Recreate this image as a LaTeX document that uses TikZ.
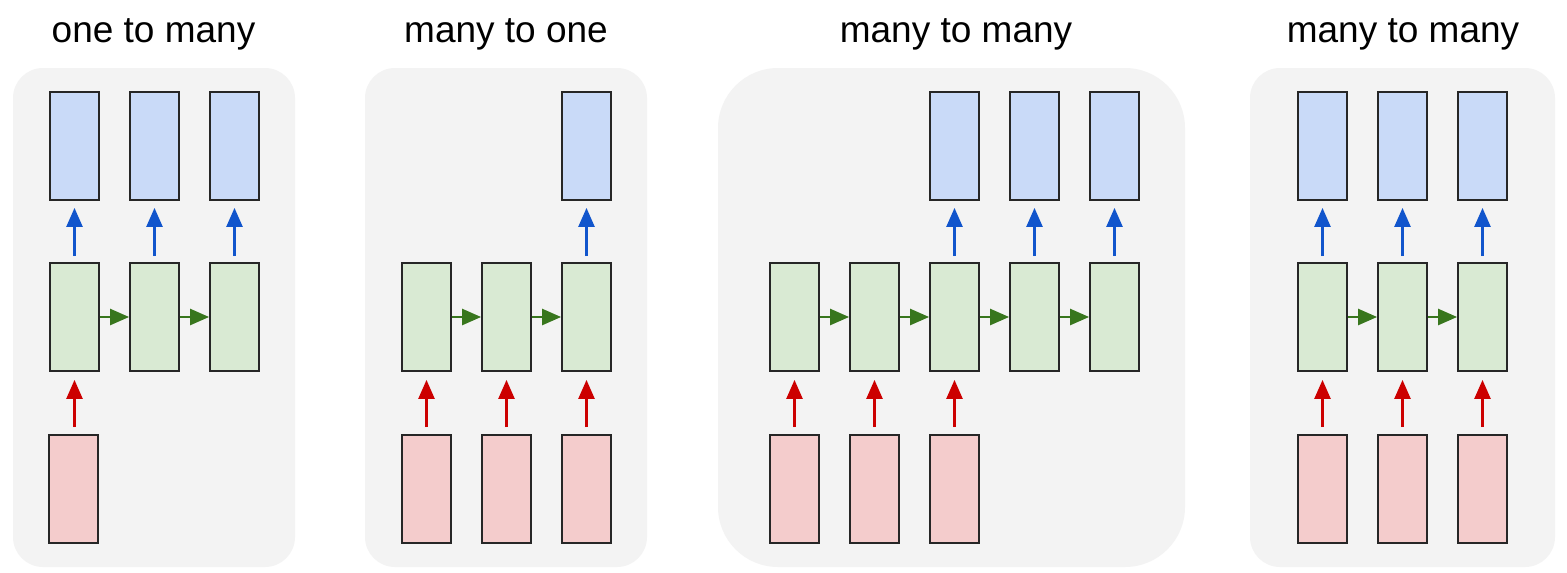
\documentclass[tikz,border=0pt]{standalone}
\usepackage{fontspec}
\setmainfont{Liberation Sans}
\usetikzlibrary{arrows.meta,positioning}
\definecolor{panelc}{HTML}{F3F3F3}
\definecolor{outc}{HTML}{C9DAF8}
\definecolor{hidc}{HTML}{D9EAD3}
\definecolor{inc}{HTML}{F4CCCC}
\definecolor{outarc}{HTML}{1155CC}
\definecolor{hidarc}{HTML}{38761D}
\definecolor{inarc}{HTML}{CC0000}

\begin{document}
\begin{tikzpicture}[x=1pt,y=-1pt,
  cell/.style={draw=black!85,line width=1.8pt,minimum width=49pt,minimum height=108pt,inner sep=0pt},
  outcell/.style={cell,fill=outc},
  hidcell/.style={cell,fill=hidc},
  incell/.style={cell,fill=inc},
  tip/.style={-{Triangle[length=19pt,width=16pt]},line width=2.4pt},
  outarr/.style={tip,draw=outarc,fill=outarc,shorten <=6pt,shorten >=7pt},
  inarr/.style={tip,draw=inarc,fill=inarc,shorten <=7pt,shorten >=8pt},
  hidarr/.style={tip,draw=hidarc,fill=hidarc},
  title/.style={anchor=base,font=\fontsize{37}{40}\selectfont}]
  \useasboundingbox[fill=white] (0,0) rectangle (1567,573);
  % rows: out 146, hid 317, in 489 (centres)
  \def\yo{146}\def\yh{317}\def\yi{489}

  % one to many
  \fill[panelc,rounded corners=30pt] (13,68) rectangle (295,567);
  \node[title] (t1) at (153.5,42) {one to many};
  \foreach \i/\x in {1/74.5,2/154.5,3/234.5} {
    \node[hidcell] (a\i) at (\x,\yh) {};
    \node[outcell] (ao\i) at (\x,\yo) {};
    \draw[outarr] (a\i) -- (ao\i);
  }
  \node[incell] (ai1) at (73.5,\yi) {};
  \draw[inarr] (a1 |- ai1.north) -- (a1);
  \draw[hidarr] (a1) -- (a2);
  \draw[hidarr] (a2) -- (a3);

  % many to one
  \fill[panelc,rounded corners=30pt] (365,68) rectangle (647,567);
  \node[title] (t2) at (506,42) {many to one};
  \foreach \i/\x in {1/426.5,2/506.5,3/586.5} {
    \node[hidcell] (b\i) at (\x,\yh) {};
    \node[incell] (bi\i) at (\x,\yi) {};
    \draw[inarr] (bi\i) -- (b\i);
  }
  \node[outcell] (bo3) at (586.5,\yo) {};
  \draw[outarr] (b3) -- (bo3);
  \draw[hidarr] (b1) -- (b2);
  \draw[hidarr] (b2) -- (b3);

  % many to many (delayed)
  \fill[panelc,rounded corners=60pt] (718,68) rectangle (1185,567);
  \node[title] (t3) at (956,42) {many to many};
  \foreach \i/\x in {1/794.5,2/874.5,3/954.5,4/1034.5,5/1114.5}
    \node[hidcell] (c\i) at (\x,\yh) {};
  \foreach \i in {1,2,3} {
    \node[incell] (ci\i) at (c\i |- 0,\yi) {};
    \draw[inarr] (ci\i) -- (c\i);
  }
  \foreach \i in {3,4,5} {
    \node[outcell] (co\i) at (c\i |- 0,\yo) {};
    \draw[outarr] (c\i) -- (co\i);
  }
  \foreach \i/\j in {1/2,2/3,3/4,4/5}
    \draw[hidarr] (c\i) -- (c\j);

  % many to many (synced)
  \fill[panelc,rounded corners=30pt] (1250,68) rectangle (1555,567);
  \node[title] (t4) at (1403,42) {many to many};
  \foreach \i/\x in {1/1322.5,2/1402.5,3/1482.5} {
    \node[hidcell] (d\i) at (\x,\yh) {};
    \node[outcell] (do\i) at (\x,\yo) {};
    \node[incell] (di\i) at (\x,\yi) {};
    \draw[outarr] (d\i) -- (do\i);
    \draw[inarr] (di\i) -- (d\i);
  }
  \draw[hidarr] (d1) -- (d2);
  \draw[hidarr] (d2) -- (d3);
\end{tikzpicture}
\end{document}
